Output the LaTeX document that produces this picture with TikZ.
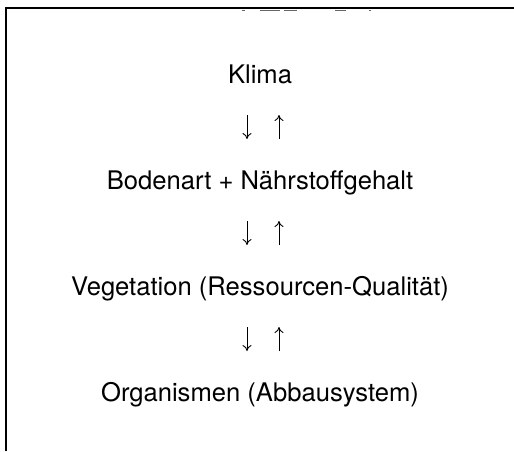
\documentclass[tikz,border=0pt]{standalone}
\usepackage{fontspec}
\setmainfont{TeX Gyre Heros}
\usetikzlibrary{arrows.meta, positioning}

\begin{document}
\begin{tikzpicture}[x=0.5pt, y=-0.5pt,
    level/.style={anchor=base, inner sep=0pt, font=\fontsize{12.8}{15}\selectfont},
    down/.style={-{To[length=3pt, width=4.5pt]}, line width=0.45pt, shorten <=16pt, shorten >=25pt},
    up/.style={-{To[length=3pt, width=4.5pt]}, line width=0.45pt, shorten <=25pt, shorten >=16pt}]
    \useasboundingbox (0,0) rectangle (514,451);
    % frame
    \draw[line width=1pt] (6,451) -- (6,8) -- (514,8);
    \foreach \xa/\xb in {242/245, 260/280, 284/297, 335/346, 369/371}
        \draw[black!60, line width=0.5pt] (\xa,10) -- (\xb,10);
    % levels
    \node[level] (klima) at (260,83) {Klima};
    \node[level] (boden) at (260,189) {Bodenart + Nährstoffgehalt};
    \node[level] (veg) at (260,295) {Vegetation (Ressourcen-Qualität)};
    \node[level] (org) at (260,401) {Organismen (Abbausystem)};
    % arrows
    \foreach \a/\b in {klima/boden, boden/veg, veg/org} {
        \draw[down] ([xshift=-6.5pt]\a.base) -- ([xshift=-6.5pt]\b.base);
        \draw[up] ([xshift=9.5pt]\b.base) -- ([xshift=9.5pt]\a.base);
    }
\end{tikzpicture}
\end{document}
